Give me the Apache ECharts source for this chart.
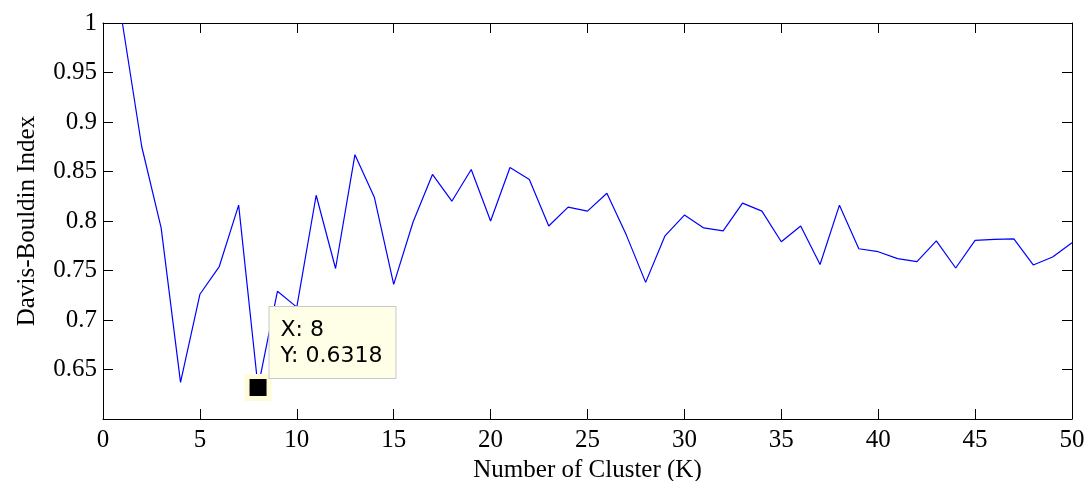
<!DOCTYPE html>
<html>
<head>
<meta charset="utf-8">
<title>Davis-Bouldin Index vs Number of Clusters</title>
<script src="https://cdn.jsdelivr.net/npm/echarts@6/dist/echarts.min.js"></script>
<style>
  html, body { margin: 0; padding: 0; background: #fff; }
  #chart { width: 1088px; height: 481px; }
</style>
</head>
<body>
<div id="chart"></div>
<script>
// Number of clusters K
const clusterCounts = [
  1, 2, 3, 4, 5, 6, 7, 8, 9, 10,
  11, 12, 13, 14, 15, 16, 17, 18, 19, 20,
  21, 22, 23, 24, 25, 26, 27, 28, 29, 30,
  31, 32, 33, 34, 35, 36, 37, 38, 39, 40,
  41, 42, 43, 44, 45, 46, 47, 48, 49, 50
];

// Davis-Bouldin index for each K
const dbIndex = [
  1.000, 0.875, 0.793, 0.637, 0.726, 0.754, 0.816, 0.6318, 0.729, 0.713,
  0.826, 0.752, 0.867, 0.824, 0.736, 0.799, 0.847, 0.820, 0.852, 0.800,
  0.854, 0.842, 0.795, 0.814, 0.810, 0.828, 0.786, 0.738, 0.785, 0.806,
  0.793, 0.790, 0.818, 0.810, 0.779, 0.795, 0.756, 0.816, 0.772, 0.769,
  0.762, 0.759, 0.780, 0.7525, 0.7805, 0.7815, 0.782, 0.7556, 0.7636, 0.778
];

// Highlighted data tip
const tipK = 8;
const tipValue = 0.6318;

const seriesData = clusterCounts.map((k, i) => [k, dbIndex[i]]);

const serif = '"Liberation Serif", "Times New Roman", serif';

const chart = echarts.init(document.getElementById('chart'), null, { renderer: 'canvas' });

const boxAxisLine = { show: true, onZero: false, lineStyle: { color: '#000', width: 1 } };
const boxTick = { show: true, inside: true, length: 10, lineStyle: { color: '#000', width: 1 } };

chart.setOption({
  animation: false,
  backgroundColor: '#ffffff',
  grid: {
    left: 103, right: 16, top: 23, bottom: 62,
    containLabel: false,
    outerBoundsMode: 'none'
  },
  xAxis: [
    {
      type: 'value',
      min: 0, max: 50, interval: 5,
      name: 'Number of Cluster (K)',
      nameLocation: 'middle',
      nameGap: 38,
      nameTextStyle: { fontFamily: serif, fontSize: 25, color: '#000' },
      axisLine: boxAxisLine,
      axisTick: boxTick,
      axisLabel: { fontFamily: serif, fontSize: 25, color: '#000', margin: 9 },
      splitLine: { show: false }
    },
    {
      type: 'value', position: 'top',
      min: 0, max: 50, interval: 5,
      axisLine: boxAxisLine,
      axisTick: boxTick,
      axisLabel: { show: false },
      splitLine: { show: false }
    }
  ],
  yAxis: [
    {
      type: 'value',
      min: 0.6, max: 1, interval: 0.05,
      name: 'Davis-Bouldin Index',
      nameLocation: 'middle',
      nameGap: 63,
      nameRotate: 90,
      nameTextStyle: { fontFamily: serif, fontSize: 25, color: '#000' },
      axisLine: boxAxisLine,
      axisTick: boxTick,
      axisLabel: {
        fontFamily: serif, fontSize: 25, color: '#000', margin: 6,
        showMinLabel: false,
        formatter: v => String(+v.toFixed(2))
      },
      splitLine: { show: false }
    },
    {
      type: 'value', position: 'right',
      min: 0.6, max: 1, interval: 0.05,
      axisLine: boxAxisLine,
      axisTick: boxTick,
      axisLabel: { show: false },
      splitLine: { show: false }
    }
  ],
  series: [
    {
      type: 'line',
      data: seriesData,
      showSymbol: false,
      symbol: 'none',
      clip: true,
      lineStyle: { color: '#0000ff', width: 1.2 },
      markPoint: {
        silent: true,
        symbol: 'rect',
        symbolSize: 22,
        itemStyle: { color: '#000', borderColor: '#fdfbd8', borderWidth: 5 },
        label: {
          show: true,
          position: [25, -67],
          align: 'left',
          verticalAlign: 'top',
          formatter: 'X: ' + tipK + '\nY: ' + tipValue,
          fontFamily: '"DejaVu Sans", "Liberation Sans", Arial, sans-serif',
          fontSize: 22,
          lineHeight: 26,
          color: '#000',
          backgroundColor: '#ffffe8',
          borderColor: '#c8c8c8',
          borderWidth: 1,
          padding: [10, 13, 9, 11]
        },
        data: [{ coord: [tipK, tipValue] }]
      }
    }
  ]
});
</script>
</body>
</html>
